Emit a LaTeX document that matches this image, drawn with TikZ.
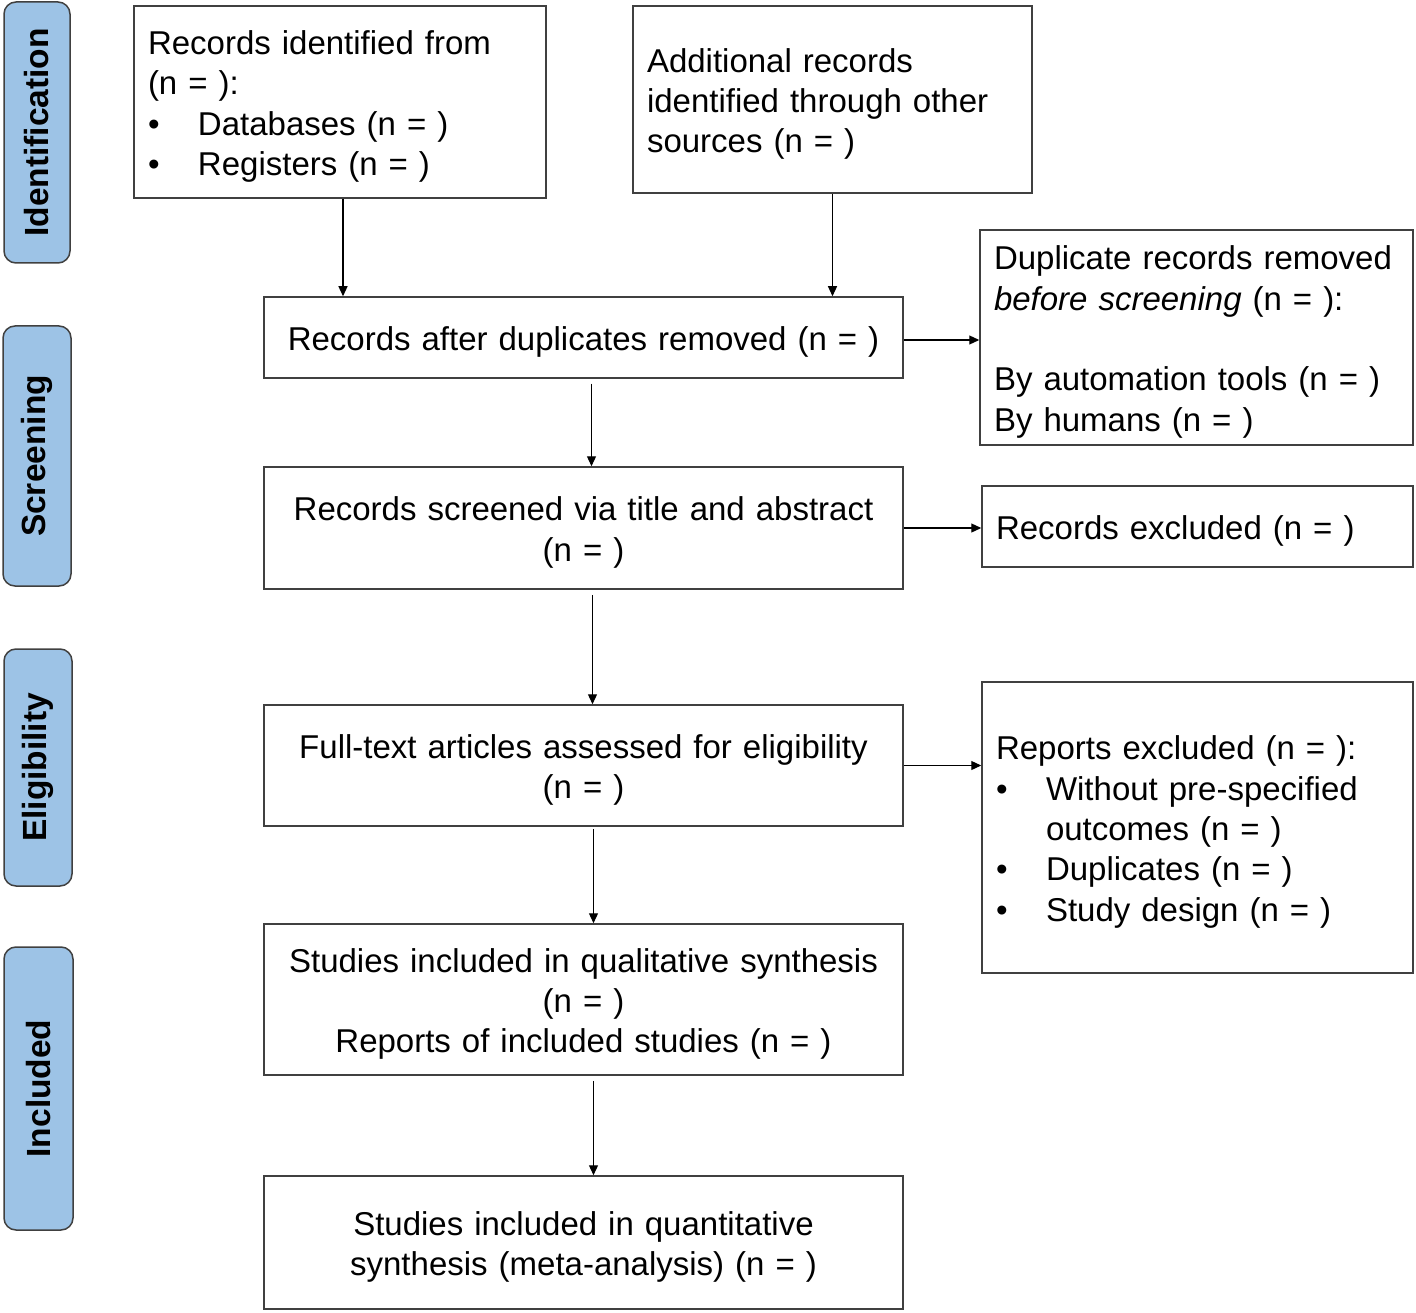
\documentclass[tikz,border=0pt]{standalone}
\usepackage{fontspec}
\setmainfont{Liberation Sans}
\usetikzlibrary{arrows.meta}
\definecolor{phaseblue}{HTML}{9DC3E6}
\definecolor{edgegray}{HTML}{404040}
\hyphenpenalty=10000\relax
\tikzset{
  box/.style={draw=edgegray, line width=1.5pt, inner xsep=14pt, inner ysep=0pt,
    font=\fontsize{33}{40.4}\selectfont,
    execute at begin node={\rule{0pt}{33pt}}},
  phase/.style={draw=edgegray, fill=phaseblue, line width=1.5pt, rounded corners=12pt,
    rotate=90, inner sep=0pt, font=\fontsize{33.5}{40.4}\selectfont\bfseries},
  flow/.style={-{Triangle[length=10pt,width=9pt]}, line width=1.2pt}
}
\newcommand{\bul}{\makebox[50pt][l]{\textbullet}}
\begin{document}
\begin{tikzpicture}[x=1pt,y=-1pt]
  \useasboundingbox (0,0) rectangle (1416,1313);
  % Phases
  \node[phase, minimum width=261, minimum height=66] (pident) at (37,132.5) {Identification};
  \node[phase, minimum width=260, minimum height=68] (pscreen) at (37,456) {Screening};
  \node[phase, minimum width=237, minimum height=68] (pelig) at (38,767.5) {Eligibility};
  \node[phase, minimum width=283, minimum height=69] (pincl) at (38.5,1088.5) {Included};
  % Identification
  \node[box, minimum width=412, minimum height=192, text width=384, align=left] (ident) at (340,102)
    {Records identified from\\(n = ):\\\bul Databases (n = )\\\bul Registers (n = )};
  \node[box, minimum width=399, minimum height=187, text width=371, align=left] (other) at (832.5,99.5)
    {Additional records\\identified through other\\sources (n = )};
  % Screening
  \node[box, minimum width=639, minimum height=81, text width=611, align=center] (dedup) at (583.5,337.5)
    {Records after duplicates removed (n = )};
  \node[box, minimum width=433, minimum height=215, text width=405, align=left] (dupl) at (1196.5,337.5)
    {Duplicate records removed\\\textit{before screening} (n = ):\\[40.4pt]By automation tools (n = )\\By humans (n = )};
  \node[box, minimum width=639, minimum height=122, text width=611, align=center] (screen) at (583.5,528)
    {Records screened via title and abstract\\(n = )};
  \node[box, minimum width=431, minimum height=81, text width=403, align=left] (recexcl) at (1197.5,526.5)
    {Records excluded (n = )};
  % Eligibility
  \node[box, minimum width=639, minimum height=121, text width=611, align=center] (full) at (583.5,765.5)
    {Full-text articles assessed for eligibility\\(n = )};
  \node[box, minimum width=431, minimum height=291, text width=403, align=left] (repexcl) at (1197.5,827.5)
    {Reports excluded (n = ):\\\bul Without pre-specified\\\hspace*{50pt}outcomes (n = )\\\bul Duplicates (n = )\\\bul Study design (n = )};
  % Included
  \node[box, minimum width=639, minimum height=151, text width=611, align=center] (qual) at (583.5,999.5)
    {Studies included in qualitative synthesis\\(n = )\\Reports of included studies (n = )};
  \node[box, minimum width=639, minimum height=133, text width=611, align=center] (quant) at (583.5,1242.5)
    {Studies included in quantitative\\synthesis (meta-analysis) (n = )};
  % Connectors
  \draw[flow] ([xshift=3pt]ident.south) -- ([xshift=3pt]ident.south |- dedup.north);
  \draw[flow] (other.south) -- (other.south |- dedup.north);
  \draw[flow, shorten <=5pt] ([xshift=8pt]dedup.south) -- ([xshift=8pt]screen.north);
  \draw[flow, shorten <=5pt] ([xshift=9pt]screen.south) -- ([xshift=9pt]full.north);
  \draw[flow, shorten <=2pt] ([xshift=10pt]full.south) -- ([xshift=10pt]qual.north);
  \draw[flow, shorten <=5pt] ([xshift=10pt]qual.south) -- ([xshift=10pt]quant.north);
  \draw[flow] ([yshift=-2.5pt]dedup.east) -- ([yshift=-2.5pt]dedup.east -| dupl.west);
  \draw[flow] (screen.east) -- (screen.east -| recexcl.west);
  \draw[flow] (full.east) -- (full.east -| repexcl.west);
\end{tikzpicture}
\end{document}
